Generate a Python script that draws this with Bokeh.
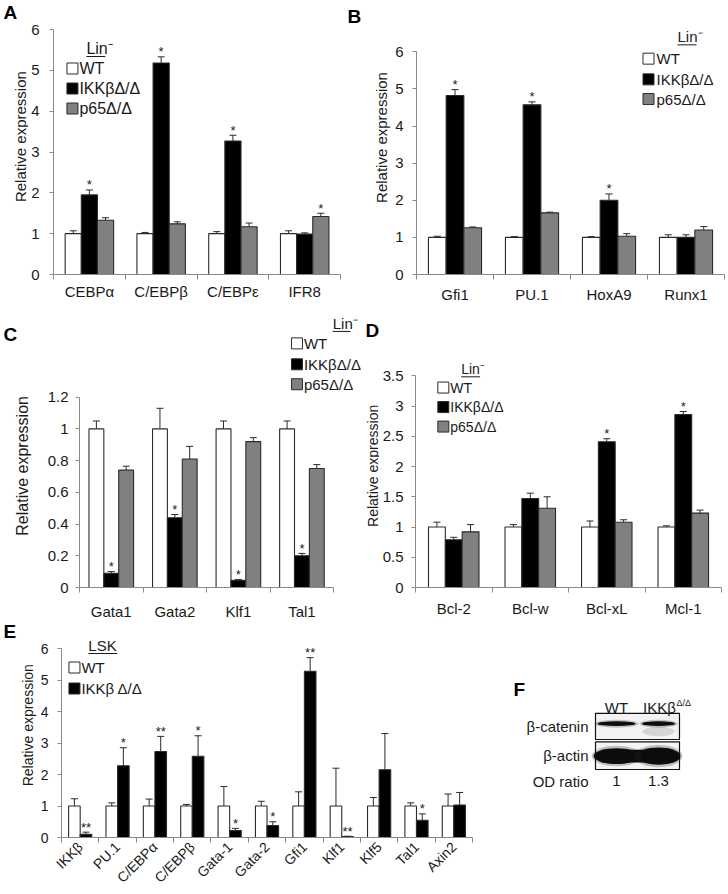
import math
from bokeh.plotting import figure
from bokeh.models import Range1d, FixedTicker, NumeralTickFormatter, ColumnDataSource, Whisker, TeeHead, Label
from bokeh.layouts import column, row
from bokeh.embed import file_html
from bokeh.resources import INLINE
from bokeh.core.properties import value

FONT = "Liberation Sans"
AXIS_C = "#8a8a8a"
TXT_C = "#1a1a1a"
EDGE_C = "#2b2b2b"
Y_TITLE = "Relative expression"

# ---------------- data ----------------
lin_names = ["WT", "IKKβΔ/Δ", "p65Δ/Δ"]
lin_colors = ["#ffffff", "#000000", "#808080"]

a_genes = ["CEBPα", "C/EBPβ", "C/EBPε", "IFR8"]
a_wt = [1.0, 1.0, 1.0, 1.0]
a_wt_err = [0.07, 0.03, 0.05, 0.07]
a_ikk = [1.95, 5.18, 3.27, 0.99]
a_ikk_err = [0.12, 0.15, 0.14, 0.03]
a_p65 = [1.33, 1.24, 1.17, 1.42]
a_p65_err = [0.06, 0.05, 0.09, 0.08]
a_sig = [["", "", "", ""], ["*", "*", "*", ""], ["", "", "", "*"]]

b_genes = ["Gfi1", "PU.1", "HoxA9", "Runx1"]
b_wt = [1.0, 1.0, 1.0, 1.0]
b_wt_err = [0.03, 0.02, 0.02, 0.07]
b_ikk = [4.82, 4.57, 2.0, 1.0]
b_ikk_err = [0.16, 0.08, 0.17, 0.07]
b_p65 = [1.26, 1.66, 1.03, 1.2]
b_p65_err = [0.02, 0.02, 0.07, 0.09]
b_sig = [["", "", "", ""], ["*", "*", "*", ""], ["", "", "", ""]]

c_genes = ["Gata1", "Gata2", "Klf1", "Tal1"]
c_wt = [1.0, 1.0, 1.0, 1.0]
c_wt_err = [0.05, 0.13, 0.05, 0.05]
c_ikk = [0.09, 0.44, 0.045, 0.2]
c_ikk_err = [0.01, 0.02, 0.005, 0.015]
c_p65 = [0.74, 0.81, 0.92, 0.75]
c_p65_err = [0.025, 0.08, 0.025, 0.025]
c_sig = [["", "", "", ""], ["*", "*", "*", "*"], ["", "", "", ""]]

d_genes = ["Bcl-2", "Bcl-w", "Bcl-xL", "Mcl-1"]
d_wt = [1.0, 1.0, 1.0, 1.0]
d_wt_err = [0.08, 0.04, 0.1, 0.02]
d_ikk = [0.79, 1.47, 2.41, 2.86]
d_ikk_err = [0.04, 0.09, 0.05, 0.05]
d_p65 = [0.92, 1.31, 1.08, 1.23]
d_p65_err = [0.12, 0.19, 0.04, 0.05]
d_sig = [["", "", "", ""], ["", "", "*", "*"], ["", "", "", ""]]

e_genes = ["IKKβ", "PU.1", "C/EBPα", "C/EBPβ", "Gata-1", "Gata-2", "Gfi1", "Klf1", "Klf5", "Tal1", "Axin2"]
e_names = ["WT", "IKKβ Δ/Δ"]
e_colors = ["#ffffff", "#000000"]
e_wt = [1.0] * 11
e_wt_err = [0.23, 0.1, 0.22, 0.05, 0.62, 0.15, 0.45, 1.2, 0.27, 0.1, 0.38]
e_ikk = [0.1, 2.28, 2.73, 2.58, 0.22, 0.38, 5.28, 0.03, 2.15, 0.55, 1.03]
e_ikk_err = [0.07, 0.57, 0.48, 0.65, 0.07, 0.12, 0.43, 0.01, 1.15, 0.2, 0.4]
e_sig = [[""] * 11, ["**", "*", "**", "*", "*", "*", "**", "**", "", "*", ""]]

blot_lanes = ["WT", "IKKβ"]
blot_sup = "Δ/Δ"
blot_rows = ["β-catenin", "β-actin"]
od_ratio = ["1", "1.3"]


def blank_fig(x0, x1, y0, y1):
    """Figure whose data coordinates are page pixels (y grows downward)."""
    p = figure(width=x1 - x0, height=y1 - y0, x_range=Range1d(x0, x1), y_range=Range1d(y1, y0),
               output_backend="svg", toolbar_location=None, min_border=0)
    p.axis.visible = False
    p.grid.visible = False
    p.outline_line_color = None
    return p


def label_column(x0, x1, y0, y1, letter, lx, ly, ytx, yty, yfs):
    p = blank_fig(x0, x1, y0, y1)
    p.text(x=[lx], y=[ly], text=[letter], text_font=value(FONT), text_font_style="bold",
           text_font_size="19px", text_color="#000000", text_align="left", text_baseline="middle")
    p.text(x=[ytx], y=[yty], text=[Y_TITLE], angle=math.pi / 2, text_font=value(FONT),
           text_font_size=f"{yfs}px", text_color=TXT_C, text_align="center", text_baseline="middle")
    return p


def make_panel(box, ax_x, ax_y, cw, uy, genes, names, colors, vals, errs, sigs,
               ymax, yticks, bar_w, tick_fs, xlab_fs, ytick_sd, xlab_sd, legend,
               rot=None, ylab_fs=None, ylab_sd=0):
    fx0, fy0, fx1, fy1 = box
    W, H = fx1 - fx0, fy1 - fy0
    n = len(genes)
    p = figure(width=W, height=H,
               x_range=Range1d(0, (fx1 - ax_x) / cw),
               y_range=Range1d(0, (ax_y - fy0) / uy),
               output_backend="svg", toolbar_location=None,
               min_border_left=ax_x - fx0, min_border_bottom=fy1 - ax_y,
               min_border_right=0, min_border_top=0)
    p.outline_line_color = None
    p.grid.visible = False
    p.background_fill_color = "white"

    def X(px):
        return (px - ax_x) / cw

    def Y(py):
        return (ax_y - py) / uy

    ns = len(names)
    for k in range(ns):
        off = (k - (ns - 1) / 2) * bar_w
        xs = [i + 0.5 + off for i in range(n)]
        src = ColumnDataSource(dict(x=xs, top=vals[k],
                                    upper=[v + e for v, e in zip(vals[k], errs[k])],
                                    sig=sigs[k]))
        p.vbar(x="x", top="top", width=bar_w, bottom=0, source=src,
               fill_color=colors[k], line_color=EDGE_C, line_width=1.1)
        w = Whisker(base="x", lower="top", upper="upper", source=src, dimension="height",
                    line_color=EDGE_C, line_width=1,
                    upper_head=TeeHead(size=7, line_color=EDGE_C, line_width=1),
                    lower_head=None, level="overlay")
        p.add_layout(w)
        p.text(x="x", y="upper", text="sig", source=src, text_align="center",
               text_baseline="middle", y_offset=-5, text_font=value(FONT),
               text_font_size="13px", text_color=TXT_C)

    # y axis
    ya = p.yaxis[0]
    ya.ticker = FixedTicker(ticks=yticks)
    ya.formatter = NumeralTickFormatter(format="0.[0]")
    ya.bounds = (0, ymax)
    ya.axis_line_color = AXIS_C
    ya.major_tick_line_color = AXIS_C
    ya.major_tick_out = 4
    ya.major_tick_in = 0
    ya.minor_tick_line_color = None
    ya.major_label_text_font = FONT
    ya.major_label_text_font_size = f"{tick_fs}px"
    ya.major_label_text_color = TXT_C
    ya.major_label_standoff = ytick_sd
    if ylab_fs is not None:
        ya.axis_label = Y_TITLE
        ya.axis_label_text_font = FONT
        ya.axis_label_text_font_style = "normal"
        ya.axis_label_text_font_size = f"{ylab_fs}px"
        ya.axis_label_text_color = TXT_C
        ya.axis_label_standoff = ylab_sd

    # x axis
    xa = p.xaxis[0]
    centers = [i + 0.5 for i in range(n)]
    xa.ticker = FixedTicker(ticks=centers, minor_ticks=list(range(n + 1)))
    xa.major_label_overrides = {c: g for c, g in zip(centers, genes)}
    xa.bounds = (0, n)
    xa.axis_line_color = AXIS_C
    xa.major_tick_line_color = AXIS_C
    xa.major_tick_out = 0
    xa.major_tick_in = 0
    xa.minor_tick_line_color = AXIS_C
    xa.minor_tick_out = 5
    xa.minor_tick_in = 0
    xa.major_label_text_font = FONT
    xa.major_label_text_font_size = f"{xlab_fs}px"
    xa.major_label_text_color = TXT_C
    xa.major_label_standoff = xlab_sd
    if rot is not None:
        xa.major_label_orientation = rot

    # legend (manual, Excel-like)
    lg = legend
    p.text(x=[X(lg["title_x"])], y=[Y(lg["title_y"])], text=[lg["title"]],
           text_font=value(FONT), text_font_size=f"{lg['fs']}px", text_color=TXT_C,
           text_baseline="middle", text_align="left")
    p.segment(x0=[X(lg["title_x"])], x1=[X(lg["title_x"] + lg["ul_w"])],
              y0=[Y(lg["title_y"] + lg["ul_dy"])], y1=[Y(lg["title_y"] + lg["ul_dy"])],
              line_color=TXT_C, line_width=1)
    for k in range(ns):
        p.scatter(x=[X(lg["sq_x"])], y=[Y(lg["rows"][k])], marker="square", size=lg["sq"],
                  fill_color=colors[k], line_color=EDGE_C, line_width=1)
        p.text(x=[X(lg["tx_x"])], y=[Y(lg["rows"][k])], text=[names[k]],
               text_font=value(FONT), text_font_size=f"{lg['fs']}px", text_color=TXT_C,
               text_baseline="middle", text_align="left")
    return p, X, Y


# ---------------- row 1: panels A and B ----------------
colA = label_column(0, 28, 0, 310, "A", 3, 14, 20, 154, 15)
pA, XA, YA = make_panel(
    (28, 0, 364, 310), 52, 274, 72, (274 - 29) / 6, a_genes, lin_names, lin_colors,
    [a_wt, a_ikk, a_p65], [a_wt_err, a_ikk_err, a_p65_err], a_sig,
    6, [0, 1, 2, 3, 4, 5, 6], 0.225, 15, 15, 10, 3,
    dict(title="Lin⁻", title_x=85, title_y=48, ul_w=19, ul_dy=8, sq_x=71, tx_x=78,
         rows=[68, 88, 108], fs=16, sq=11))
pA.add_layout(Label(x=XA(347), y=YA(16), text="B", text_font=FONT, text_font_style="bold",
                    text_font_size="19px", text_color="#000000", text_align="left",
                    text_baseline="middle"))

pB, XB, YB = make_panel(
    (364, 0, 728, 310), 416, 278, 77, (278 - 52) / 6, b_genes, lin_names, lin_colors,
    [b_wt, b_ikk, b_p65], [b_wt_err, b_ikk_err, b_p65_err], b_sig,
    6, [0, 1, 2, 3, 4, 5, 6], 0.23, 15, 15, 9, 6,
    dict(title="Lin⁻", title_x=677, title_y=37, ul_w=19, ul_dy=8, sq_x=648, tx_x=656,
         rows=[59, 80, 100], fs=15, sq=11),
    ylab_fs=15, ylab_sd=2)

# ---------------- row 2: panels C and D ----------------
colC = label_column(0, 44, 310, 622, "C", 3, 337, 22, 485, 16)
pC, XC, YC = make_panel(
    (44, 310, 364, 622), 77, 588, 64, (588 - 397) / 1.2, c_genes, lin_names, lin_colors,
    [c_wt, c_ikk, c_p65], [c_wt_err, c_ikk_err, c_p65_err], c_sig,
    1.2, [0, 0.2, 0.4, 0.6, 0.8, 1.0, 1.2], 0.234, 15, 15, 7, 10,
    dict(title="Lin⁻", title_x=332, title_y=323, ul_w=18, ul_dy=8, sq_x=296, tx_x=303,
         rows=[343, 364, 384], fs=15, sq=11))

colD = label_column(364, 379, 310, 622, "D", 365, 333, 372, 485, 14)
pD, XD, YD = make_panel(
    (379, 310, 728, 622), 413, 594, 77, (594 - 377) / 3.5, d_genes, lin_names, lin_colors,
    [d_wt, d_ikk, d_p65], [d_wt_err, d_ikk_err, d_p65_err], d_sig,
    3.5, [0, 0.5, 1, 1.5, 2, 2.5, 3, 3.5], 0.22, 15, 15, 8, 7,
    dict(title="Lin⁻", title_x=459, title_y=370, ul_w=19, ul_dy=8, sq_x=441, tx_x=448,
         rows=[389, 409, 429], fs=14, sq=11))

# ---------------- row 3: panel E and blot F ----------------
colE = label_column(0, 37, 622, 894, "E", 3, 633, 27, 752, 14)
pE, XE, YE = make_panel(
    (37, 622, 480, 894), 59, 837, (472 - 59) / 11, (837 - 648) / 6, e_genes, e_names, e_colors,
    [e_wt, e_ikk], [e_wt_err, e_ikk_err], e_sig,
    6, [0, 1, 2, 3, 4, 5, 6], 0.31, 14, 14, 9, 2,
    dict(title="LSK", title_x=86, title_y=645, ul_w=29, ul_dy=8, sq_x=72, tx_x=79,
         rows=[667, 688], fs=15, sq=11),
    rot=math.pi / 4)

pF = blank_fig(480, 728, 622, 894)
box_l, box_r = 595, 679
row_top = [737, 773]
row_bot = [770, 808]
lane_w = (box_r - box_l) / len(blot_lanes)
lane_x = [box_l + (i + 0.5) * lane_w for i in range(len(blot_lanes))]

pF.quad(left=box_l, right=box_r, top=row_top, bottom=row_bot,
        fill_color="#f3f3f3", line_color="#111111", line_width=1.2)
# beta-catenin bands
pF.ellipse(x=lane_x, y=750, width=[44, 38], height=10, fill_color="#222222",
           fill_alpha=0.25, line_color=None)
pF.ellipse(x=lane_x, y=750, width=[38, 33], height=6, fill_color="#0d0d0d",
           line_color=None)
pF.ellipse(x=[lane_x[1]], y=[760], width=[32], height=[12], fill_color="#555555",
           fill_alpha=0.18, line_color=None)
# beta-actin bands
pF.rect(x=[(lane_x[0] + lane_x[1]) / 2], y=[791], width=[72], height=[16],
        fill_color="#050505", line_color=None)
pF.ellipse(x=lane_x, y=791, width=[46, 44], height=[20, 22], fill_color="#050505",
           line_color=None)
pF.ellipse(x=lane_x, y=791, width=[50, 48], height=[26, 28], fill_color="#222222",
           fill_alpha=0.25, line_color=None)

pF.text(x=[lane_x[0]], y=[729], text=[blot_lanes[0]], text_align="center",
        text_baseline="middle", text_font=value(FONT), text_font_size="15px", text_color=TXT_C)
pF.text(x=[lane_x[1] + 1], y=[729], text=[blot_lanes[1]], text_align="center",
        text_baseline="middle", text_font=value(FONT), text_font_size="15px", text_color=TXT_C)
pF.text(x=[676], y=[724], text=[blot_sup], text_align="left",
        text_baseline="middle", text_font=value(FONT), text_font_size="9px", text_color=TXT_C)
pF.text(x=[588, 588], y=[753, 790], text=blot_rows, text_align="right",
        text_baseline="middle", text_font=value(FONT), text_font_size="15px", text_color=TXT_C)
pF.text(x=[588], y=[823], text=["OD ratio"], text_align="right",
        text_baseline="middle", text_font=value(FONT), text_font_size="15px", text_color=TXT_C)
pF.text(x=lane_x, y=[823, 823], text=od_ratio, text_align="center",
        text_baseline="middle", text_font=value(FONT), text_font_size="15px", text_color=TXT_C)
pF.text(x=[513], y=[707], text=["F"], text_font=value(FONT), text_font_style="bold",
        text_font_size="19px", text_color="#000000", text_align="left", text_baseline="middle")

layout = column(row(colA, pA, pB), row(colC, pC, colD, pD), row(colE, pE, pF))
open("out.html", "w").write(file_html(layout, INLINE))
